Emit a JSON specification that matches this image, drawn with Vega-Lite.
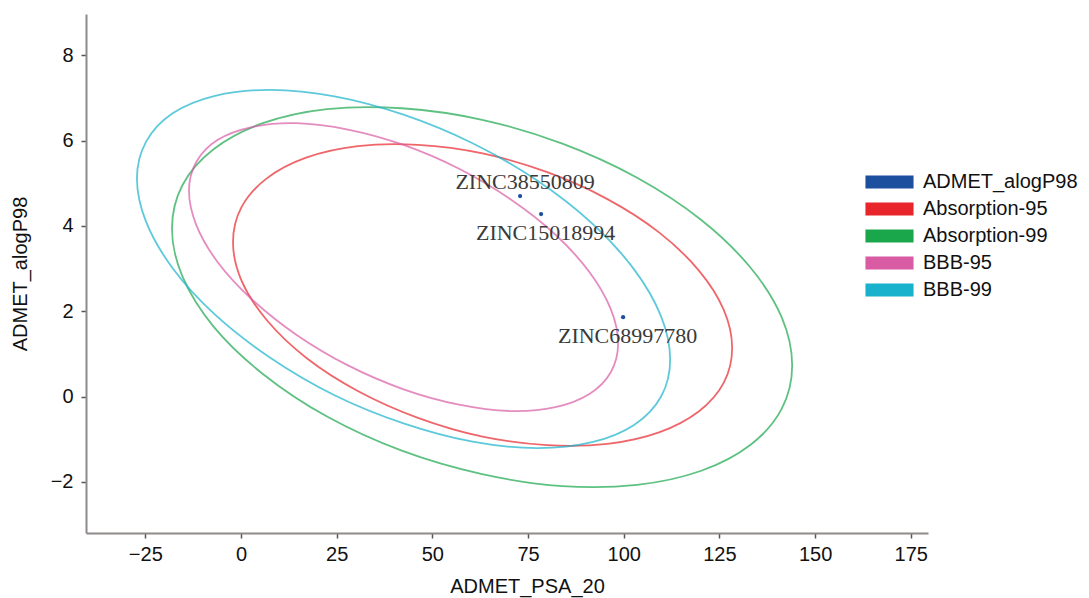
{
  "$schema": "https://vega.github.io/schema/vega-lite/v6.json",
  "autosize": "none",
  "width": 842,
  "height": 519,
  "padding": {"left": 86, "top": 14, "right": 161, "bottom": 65},
  "background": "white",
  "config": {"view": {"stroke": null}, "font": "Liberation Sans"},
  "datasets": {
    "ellipses": [
      {"series": "Absorption-99", "i": 0, "psa": 144.01, "alogp": 0.73},
      {"series": "Absorption-99", "i": 1, "psa": 141.26, "alogp": 1.86},
      {"series": "Absorption-99", "i": 2, "psa": 133.15, "alogp": 3.02},
      {"series": "Absorption-99", "i": 3, "psa": 120.27, "alogp": 4.14},
      {"series": "Absorption-99", "i": 4, "psa": 103.5, "alogp": 5.13},
      {"series": "Absorption-99", "i": 5, "psa": 83.97, "alogp": 5.93},
      {"series": "Absorption-99", "i": 6, "psa": 62.99, "alogp": 6.49},
      {"series": "Absorption-99", "i": 7, "psa": 42.01, "alogp": 6.76},
      {"series": "Absorption-99", "i": 8, "psa": 22.48, "alogp": 6.74},
      {"series": "Absorption-99", "i": 9, "psa": 5.71, "alogp": 6.41},
      {"series": "Absorption-99", "i": 10, "psa": -7.17, "alogp": 5.8},
      {"series": "Absorption-99", "i": 11, "psa": -15.28, "alogp": 4.96},
      {"series": "Absorption-99", "i": 12, "psa": -18.03, "alogp": 3.94},
      {"series": "Absorption-99", "i": 13, "psa": -15.28, "alogp": 2.81},
      {"series": "Absorption-99", "i": 14, "psa": -7.17, "alogp": 1.64},
      {"series": "Absorption-99", "i": 15, "psa": 5.71, "alogp": 0.53},
      {"series": "Absorption-99", "i": 16, "psa": 22.48, "alogp": -0.47},
      {"series": "Absorption-99", "i": 17, "psa": 42.01, "alogp": -1.27},
      {"series": "Absorption-99", "i": 18, "psa": 62.99, "alogp": -1.82},
      {"series": "Absorption-99", "i": 19, "psa": 83.97, "alogp": -2.1},
      {"series": "Absorption-99", "i": 20, "psa": 103.5, "alogp": -2.07},
      {"series": "Absorption-99", "i": 21, "psa": 120.27, "alogp": -1.74},
      {"series": "Absorption-99", "i": 22, "psa": 133.15, "alogp": -1.13},
      {"series": "Absorption-99", "i": 23, "psa": 141.26, "alogp": -0.29},

      {"series": "Absorption-95", "i": 0, "psa": 128.33, "alogp": 1.14},
      {"series": "Absorption-95", "i": 1, "psa": 126.11, "alogp": 2.04},
      {"series": "Absorption-95", "i": 2, "psa": 119.59, "alogp": 2.96},
      {"series": "Absorption-95", "i": 3, "psa": 109.22, "alogp": 3.85},
      {"series": "Absorption-95", "i": 4, "psa": 95.73, "alogp": 4.63},
      {"series": "Absorption-95", "i": 5, "psa": 80.01, "alogp": 5.26},
      {"series": "Absorption-95", "i": 6, "psa": 63.12, "alogp": 5.7},
      {"series": "Absorption-95", "i": 7, "psa": 46.23, "alogp": 5.9},
      {"series": "Absorption-95", "i": 8, "psa": 30.51, "alogp": 5.87},
      {"series": "Absorption-95", "i": 9, "psa": 17.02, "alogp": 5.6},
      {"series": "Absorption-95", "i": 10, "psa": 6.65, "alogp": 5.11},
      {"series": "Absorption-95", "i": 11, "psa": 0.13, "alogp": 4.44},
      {"series": "Absorption-95", "i": 12, "psa": -2.09, "alogp": 3.62},
      {"series": "Absorption-95", "i": 13, "psa": 0.13, "alogp": 2.72},
      {"series": "Absorption-95", "i": 14, "psa": 6.65, "alogp": 1.8},
      {"series": "Absorption-95", "i": 15, "psa": 17.02, "alogp": 0.91},
      {"series": "Absorption-95", "i": 16, "psa": 30.51, "alogp": 0.13},
      {"series": "Absorption-95", "i": 17, "psa": 46.23, "alogp": -0.5},
      {"series": "Absorption-95", "i": 18, "psa": 63.12, "alogp": -0.94},
      {"series": "Absorption-95", "i": 19, "psa": 80.01, "alogp": -1.14},
      {"series": "Absorption-95", "i": 20, "psa": 95.73, "alogp": -1.11},
      {"series": "Absorption-95", "i": 21, "psa": 109.22, "alogp": -0.84},
      {"series": "Absorption-95", "i": 22, "psa": 119.59, "alogp": -0.35},
      {"series": "Absorption-95", "i": 23, "psa": 126.11, "alogp": 0.32},

      {"series": "BBB-95", "i": 0, "psa": 98.53, "alogp": 1.25},
      {"series": "BBB-95", "i": 1, "psa": 96.62, "alogp": 2.05},
      {"series": "BBB-95", "i": 2, "psa": 91.02, "alogp": 2.92},
      {"series": "BBB-95", "i": 3, "psa": 82.11, "alogp": 3.8},
      {"series": "BBB-95", "i": 4, "psa": 70.5, "alogp": 4.62},
      {"series": "BBB-95", "i": 5, "psa": 56.99, "alogp": 5.34},
      {"series": "BBB-95", "i": 6, "psa": 42.47, "alogp": 5.9},
      {"series": "BBB-95", "i": 7, "psa": 27.95, "alogp": 6.26},
      {"series": "BBB-95", "i": 8, "psa": 14.44, "alogp": 6.41},
      {"series": "BBB-95", "i": 9, "psa": 2.83, "alogp": 6.32},
      {"series": "BBB-95", "i": 10, "psa": -6.08, "alogp": 6.02},
      {"series": "BBB-95", "i": 11, "psa": -11.68, "alogp": 5.5},
      {"series": "BBB-95", "i": 12, "psa": -13.59, "alogp": 4.83},
      {"series": "BBB-95", "i": 13, "psa": -11.68, "alogp": 4.02},
      {"series": "BBB-95", "i": 14, "psa": -6.08, "alogp": 3.15},
      {"series": "BBB-95", "i": 15, "psa": 2.83, "alogp": 2.28},
      {"series": "BBB-95", "i": 16, "psa": 14.44, "alogp": 1.45},
      {"series": "BBB-95", "i": 17, "psa": 27.95, "alogp": 0.73},
      {"series": "BBB-95", "i": 18, "psa": 42.47, "alogp": 0.17},
      {"series": "BBB-95", "i": 19, "psa": 56.99, "alogp": -0.19},
      {"series": "BBB-95", "i": 20, "psa": 70.5, "alogp": -0.34},
      {"series": "BBB-95", "i": 21, "psa": 82.11, "alogp": -0.25},
      {"series": "BBB-95", "i": 22, "psa": 91.02, "alogp": 0.06},
      {"series": "BBB-95", "i": 23, "psa": 96.62, "alogp": 0.57},

      {"series": "BBB-99", "i": 0, "psa": 112.13, "alogp": 0.87},
      {"series": "BBB-99", "i": 1, "psa": 109.76, "alogp": 1.88},
      {"series": "BBB-99", "i": 2, "psa": 102.8, "alogp": 2.97},
      {"series": "BBB-99", "i": 3, "psa": 91.72, "alogp": 4.06},
      {"series": "BBB-99", "i": 4, "psa": 77.3, "alogp": 5.07},
      {"series": "BBB-99", "i": 5, "psa": 60.51, "alogp": 5.94},
      {"series": "BBB-99", "i": 6, "psa": 42.47, "alogp": 6.61},
      {"series": "BBB-99", "i": 7, "psa": 24.43, "alogp": 7.04},
      {"series": "BBB-99", "i": 8, "psa": 7.64, "alogp": 7.19},
      {"series": "BBB-99", "i": 9, "psa": -6.78, "alogp": 7.05},
      {"series": "BBB-99", "i": 10, "psa": -17.86, "alogp": 6.64},
      {"series": "BBB-99", "i": 11, "psa": -24.82, "alogp": 5.97},
      {"series": "BBB-99", "i": 12, "psa": -27.19, "alogp": 5.11},
      {"series": "BBB-99", "i": 13, "psa": -24.82, "alogp": 4.1},
      {"series": "BBB-99", "i": 14, "psa": -17.86, "alogp": 3.01},
      {"series": "BBB-99", "i": 15, "psa": -6.78, "alogp": 1.92},
      {"series": "BBB-99", "i": 16, "psa": 7.64, "alogp": 0.91},
      {"series": "BBB-99", "i": 17, "psa": 24.43, "alogp": 0.03},
      {"series": "BBB-99", "i": 18, "psa": 42.47, "alogp": -0.63},
      {"series": "BBB-99", "i": 19, "psa": 60.51, "alogp": -1.06},
      {"series": "BBB-99", "i": 20, "psa": 77.3, "alogp": -1.21},
      {"series": "BBB-99", "i": 21, "psa": 91.72, "alogp": -1.07},
      {"series": "BBB-99", "i": 22, "psa": 102.8, "alogp": -0.66},
      {"series": "BBB-99", "i": 23, "psa": 109.76, "alogp": 0.0}
    ],
    "compounds": [
      {"series": "ADMET_alogP98", "name": "ZINC38550809", "psa": 72.92, "alogp": 4.7},
      {"series": "ADMET_alogP98", "name": "ZINC15018994", "psa": 78.41, "alogp": 4.28},
      {"series": "ADMET_alogP98", "name": "ZINC68997780", "psa": 99.84, "alogp": 1.86}
    ]
  },
  "layer": [
    {
      "data": {"name": "ellipses"},
      "mark": {"type": "line", "interpolate": "cardinal-closed", "strokeWidth": 1.8, "opacity": 0.7},
      "encoding": {
        "x": {
          "field": "psa", "type": "quantitative",
          "scale": {"domain": [-40.5, 179.5], "nice": false, "zero": false},
          "axis": {
            "title": "ADMET_PSA_20", "values": [-25, 0, 25, 50, 75, 100, 125, 150, 175],
            "grid": false, "domainColor": "#8f8a8a", "domainWidth": 2,
            "tickColor": "#555555", "tickSize": 5, "tickWidth": 1.5,
            "labelFontSize": 20, "labelColor": "#111111", "labelPadding": 6,
            "titleFontSize": 20, "titleFontWeight": "normal", "titleColor": "#111111",
            "titleX": 441, "titleY": 59, "titleBaseline": "alphabetic", "titleAlign": "center"
          }
        },
        "y": {
          "field": "alogp", "type": "quantitative",
          "scale": {"domain": [-3.2, 8.97], "nice": false, "zero": false},
          "axis": {
            "title": "ADMET_alogP98", "values": [-2, 0, 2, 4, 6, 8],
            "grid": false, "domainColor": "#8f8a8a", "domainWidth": 2,
            "tickColor": "#555555", "tickSize": 5, "tickWidth": 1.5,
            "labelFontSize": 20, "labelColor": "#111111", "labelPadding": 8,
            "titleFontSize": 20, "titleFontWeight": "normal", "titleColor": "#111111",
            "titleX": -66, "titleY": 259.5, "titleAlign": "center", "titleBaseline": "middle"
          }
        },
        "color": {
          "field": "series", "type": "nominal",
          "scale": {
            "domain": ["ADMET_alogP98", "Absorption-95", "Absorption-99", "BBB-95", "BBB-99"],
            "range": ["#1d4f9f", "#e8252b", "#1aa64b", "#d95ba4", "#18b2cc"]
          },
          "legend": null
        },
        "order": {"field": "i", "type": "quantitative"}
      }
    },
    {
      "data": {"name": "compounds"},
      "mark": {"type": "point", "filled": true, "size": 18, "opacity": 1},
      "encoding": {
        "x": {"field": "psa", "type": "quantitative"},
        "y": {"field": "alogp", "type": "quantitative"},
        "color": {
          "field": "series", "type": "nominal",
          "legend": {
            "title": null, "orient": "none", "legendX": 793.5, "legendY": 158,
            "padding": 0, "symbolType": "M-3.7,-1H3.7V1H-3.7Z", "symbolSize": 169,
            "symbolStrokeWidth": 0, "symbolOpacity": 1, "labelOffset": 23.5,
            "labelFontSize": 20, "labelColor": "#111111", "rowPadding": 7, "labelLimit": 300
          }
        }
      }
    },
    {
      "data": {"name": "compounds"},
      "transform": [{"filter": "datum.name == 'ZINC38550809'"}],
      "mark": {"type": "text", "font": "Liberation Serif", "fontSize": 22, "color": "#3a3a3a", "dx": 5, "dy": -14, "baseline": "middle"},
      "encoding": {
        "x": {"field": "psa", "type": "quantitative"},
        "y": {"field": "alogp", "type": "quantitative"},
        "text": {"field": "name"}
      }
    },
    {
      "data": {"name": "compounds"},
      "transform": [{"filter": "datum.name != 'ZINC38550809'"}],
      "mark": {"type": "text", "font": "Liberation Serif", "fontSize": 22, "color": "#3a3a3a", "dx": 4.5, "dy": 19, "baseline": "middle"},
      "encoding": {
        "x": {"field": "psa", "type": "quantitative"},
        "y": {"field": "alogp", "type": "quantitative"},
        "text": {"field": "name"}
      }
    }
  ],
  "resolve": {"legend": {"color": "independent"}}
}
